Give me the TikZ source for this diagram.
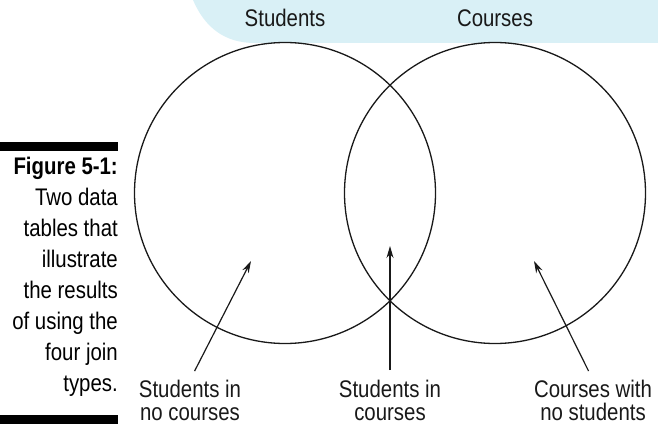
\documentclass[tikz,border=0pt]{standalone}
\usepackage{fontspec}
\setmainfont{Liberation Sans}[FakeStretch=0.85]
\usepackage{tikz}
\usetikzlibrary{arrows.meta, positioning}
\definecolor{mydark}{RGB}{25,25,25}
\definecolor{bandblue}{RGB}{217,240,246}
\tikzset{
  setcircle/.style={circle, draw=mydark, line width=1.3pt, inner sep=0pt,
    minimum size=301pt},
  setlabel/.style={font=\fontsize{24}{23}\selectfont, inner sep=0pt,
    text=mydark, anchor=base},
  calllabel/.style={font=\fontsize{24}{23}\selectfont, align=center,
    inner sep=0pt, anchor=north, text=mydark},
  captext/.style={font=\fontsize{24}{31}\selectfont, align=right,
    inner sep=0pt, anchor=north east, text=black},
  capbar/.style={rectangle, fill=black, inner sep=0pt,
    minimum width=118pt, minimum height=9pt, anchor=north west},
  arrow/.style={-{Stealth[length=12pt, width=7pt]}, line width=1.2pt,
    color=mydark, shorten <=10pt}
}

\begin{document}
\begin{tikzpicture}[x=1pt, y=-1pt]
  \useasboundingbox (0,0) rectangle (658,425);

  % Light blue band behind the set names
  \fill[bandblue] (193,0) .. controls (205,28) and (225,43) .. (255,43)
    -- (658,43) -- (658,0) -- cycle;

  % The two sets
  \node[setcircle] (stud) at (285,193) {};
  \node[setcircle] (crs) at (495,193) {};

  \node[setlabel] (studname) at (285,27) {Students};
  \node[setlabel] (crsname) at (495,27) {Courses};

  % Caption on the left
  \node[capbar] (bartop) at (0,142) {};
  \node[captext] (cap) at (118,157) {\textbf{Figure 5-1:}\\Two data\\tables that\\illustrate\\the results\\of using the\\four join\\types.};
  \node[capbar] (barbot) at (0,415) {};

  % Region labels and their pointers
  \coordinate (tipL) at (251,261);
  \coordinate (tipM) at (390,246);
  \coordinate (tipR) at (534,261);

  \node[calllabel] (lblL) at (190,380) {Students in\\no courses};
  \node[calllabel] (lblM) at (390,380) {Students in\\courses};
  \node[calllabel] (lblR) at (593,380) {Courses with\\no students};

  \draw[arrow] (lblL.north) -- (tipL);
  \draw[arrow] (lblM.north) -- (tipM);
  \draw[arrow] (lblR.north) -- (tipR);
\end{tikzpicture}
\end{document}
